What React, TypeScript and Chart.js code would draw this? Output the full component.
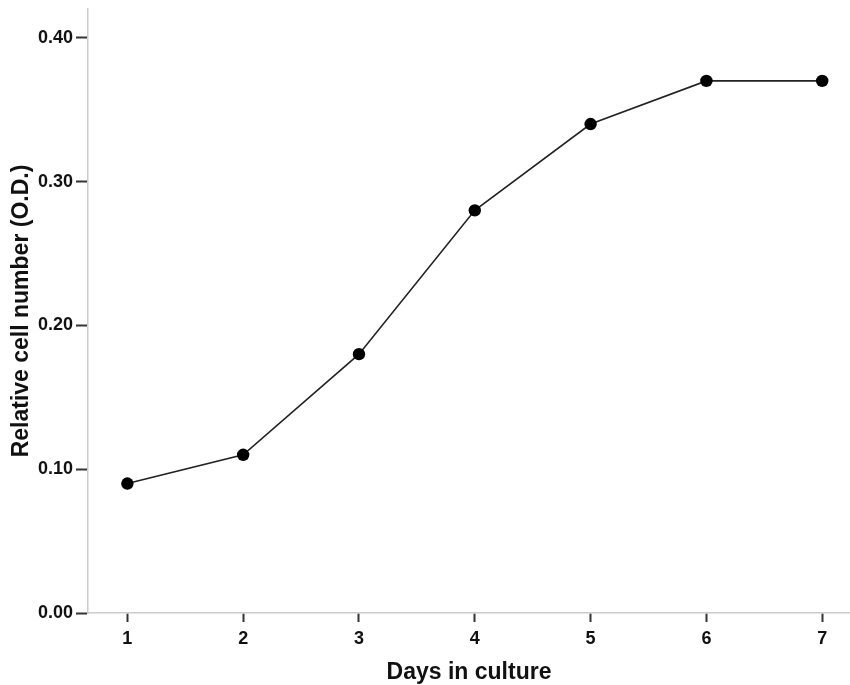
import React, { useEffect, useRef } from "react";
import { Chart, registerables } from "chart.js";

Chart.register(...registerables);

const days = [1, 2, 3, 4, 5, 6, 7];
const cellNumber = [0.09, 0.11, 0.18, 0.28, 0.34, 0.37, 0.37];
const yTicks = [0, 0.1, 0.2, 0.3, 0.4];
const xTitle = "Days in culture";
const yTitle = "Relative cell number (O.D.)";

const FONT = "'Liberation Sans', Arial, sans-serif";

export default function App() {
  const ref = useRef<HTMLCanvasElement | null>(null);

  useEffect(() => {
    if (!ref.current) return;
    const chart = new Chart(ref.current, {
      type: "line",
      data: {
        datasets: [
          {
            data: days.map((d, i) => ({ x: d, y: cellNumber[i] })),
            borderColor: "#222222",
            borderWidth: 1.6,
            pointRadius: 6.2,
            pointBackgroundColor: "#000000",
            pointBorderColor: "#000000",
            pointBorderWidth: 0,
            tension: 0,
            fill: false,
            clip: false,
          },
        ],
      },
      options: {
        responsive: false,
        animation: false,
        layout: { autoPadding: false, padding: { left: 0, right: 0, top: 9, bottom: 0 } },
        plugins: { legend: { display: false }, tooltip: { enabled: false } },
        scales: {
          x: {
            type: "linear",
            min: 0.66,
            max: 7.24,
            afterBuildTicks: (scale: any) => {
              scale.ticks = days.map((v) => ({ value: v }));
            },
            afterFit: (scale: any) => {
              scale.height = 72;
              scale.paddingLeft = 0;
              scale.paddingRight = 0;
            },
            ticks: {
              callback: (v: any) => String(v),
              color: "#111111",
              font: { family: FONT, size: 18, weight: "bold" },
              padding: 6,
              maxRotation: 0,
            },
            grid: {
              display: true,
              drawOnChartArea: false,
              drawTicks: true,
              tickLength: 9,
              tickColor: "#333333",
              tickWidth: 2,
            },
            border: { display: true, color: "#cccccc", width: 1.5 },
            title: {
              display: true,
              text: xTitle,
              color: "#111111",
              font: { family: FONT, size: 23, weight: "bold" },
              padding: { top: 0, bottom: -1 },
            },
          },
          y: {
            type: "linear",
            min: 0,
            max: 0.42,
            afterBuildTicks: (scale: any) => {
              scale.ticks = yTicks.map((v) => ({ value: v }));
            },
            afterFit: (scale: any) => {
              scale.width = 88;
              scale.paddingTop = 0;
              scale.paddingBottom = 0;
            },
            ticks: {
              callback: (v: any) => Number(v).toFixed(2),
              color: "#111111",
              font: { family: FONT, size: 18, weight: "bold" },
              padding: 3,
            },
            grid: {
              display: true,
              drawOnChartArea: false,
              drawTicks: true,
              tickLength: 12,
              tickColor: "#333333",
              tickWidth: 2,
            },
            border: { display: true, color: "#cccccc", width: 1.5 },
            title: {
              display: true,
              text: yTitle,
              color: "#111111",
              font: { family: FONT, size: 23, weight: "bold" },
              padding: { top: 8, bottom: 0 },
            },
          },
        },
      },
    });
    return () => chart.destroy();
  }, []);

  return (
    <div style={{ position: "absolute", left: 0, top: 0, width: 850, height: 685, background: "#ffffff" }}>
      <canvas ref={ref} width={850} height={685} />
    </div>
  );
}
